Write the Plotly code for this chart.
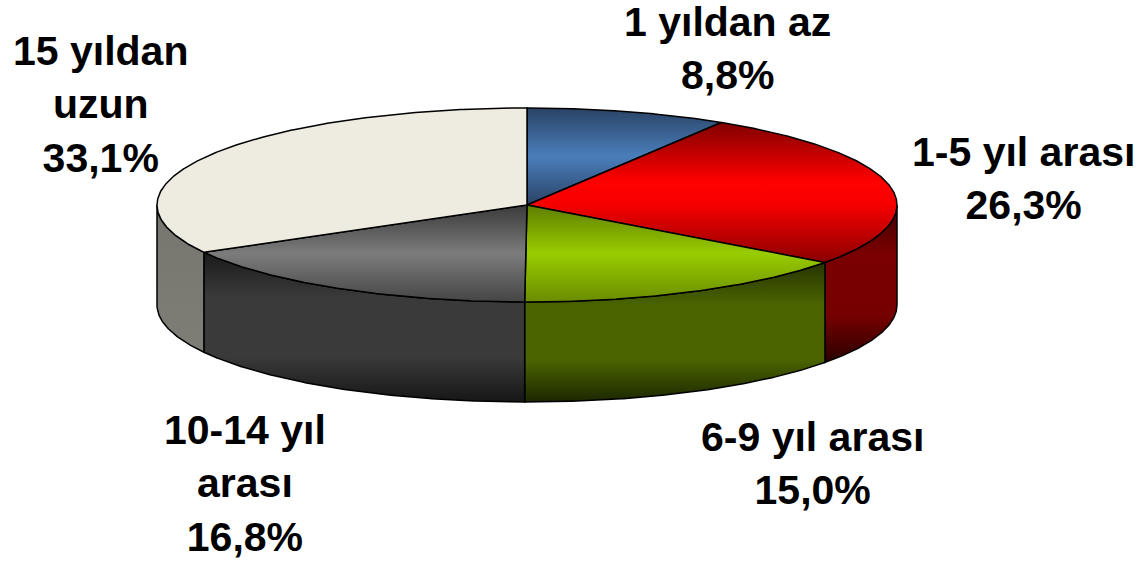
import numpy as np
import plotly.graph_objects as go

# ---- data ----
categories = ["1 yıldan az", "1-5 yıl arası", "6-9 yıl arası", "10-14 yıl<br>arası", "15 yıldan<br>uzun"]
values = [8.8, 26.3, 15.0, 16.8, 33.1]

# ---- styling ----
top_colors = [
    [[0, "#2a4365"], [0.5, "#4a7ebb"], [1, "#2a4365"]],
    [[0, "#8a0000"], [0.42, "#f80000"], [0.58, "#ff0000"], [1, "#800000"]],
    [[0, "#6a8c00"], [0.5, "#99cc00"], [1, "#5e7e00"]],
    [[0, "#454545"], [0.5, "#7c7c7c"], [1, "#3a3a3a"]],
    [[0, "#eeece1"], [1, "#eeece1"]],
]
side_colors = [
    [[0, "#1a2c45"], [0.5, "#3a5f8e"], [1, "#22395a"]],
    [[0, "#2a0000"], [0.3, "#760000"], [0.7, "#7a0000"], [1, "#3a0000"]],
    [[0, "#1c2600"], [0.3, "#4a6400"], [0.7, "#4a6400"], [1, "#263400"]],
    [[0, "#161616"], [0.3, "#3a3a3a"], [0.7, "#3a3a3a"], [1, "#1a1a1a"]],
    [[0, "#7e7d76"], [1, "#76766f"]],
]
label_pos = [(727, 48), (1023, 178), (812, 463), (245, 483), (100, 104)]

cx, cy, rx, ry, depth = 527, 205, 370, 97, 100
W, H = 1143, 562

fig = go.Figure()

total = float(sum(values))
cum = np.concatenate([[0], np.cumsum(values)]) / total
t_start = 90 - 360 * cum[:-1]
t_end = 90 - 360 * cum[1:]


def ex(t):
    return cx + rx * np.cos(np.radians(t))


def ey(t):
    return cy - ry * np.sin(np.radians(t))


# side walls (front half only: t in [-180, 0])
for i in range(len(values)):
    a, b = t_start[i], t_end[i]
    for shift in (0, 360, -360):
        lo = max(min(a, b) + shift, -180)
        hi = min(max(a, b) + shift, 0)
        if hi > lo:
            t = np.linspace(lo, hi, 200)
            xs = np.concatenate([ex(t), ex(t[::-1])])
            ys = np.concatenate([ey(t), ey(t[::-1]) + depth])
            xs = np.append(xs, xs[0])
            ys = np.append(ys, ys[0])
            fig.add_trace(go.Scatter(
                x=xs, y=ys, mode="lines", fill="toself",
                fillgradient=dict(type="vertical", colorscale=side_colors[i]),
                line=dict(color="black", width=1.5),
                hoverinfo="skip", showlegend=False,
            ))

# top faces
for i in range(len(values)):
    t = np.linspace(t_start[i], t_end[i], 300)
    xs = np.concatenate([[cx], ex(t), [cx]])
    ys = np.concatenate([[cy], ey(t), [cy]])
    fig.add_trace(go.Scatter(
        x=xs, y=ys, mode="lines", fill="toself",
        fillgradient=dict(type="vertical", colorscale=top_colors[i]),
        line=dict(color="black", width=1.5),
        hoverinfo="skip", showlegend=False,
    ))

# labels
for i, (cat, v) in enumerate(zip(categories, values)):
    pct = f"{v:.1f}".replace(".", ",") + "%"
    x, y = label_pos[i]
    fig.add_annotation(
        x=x, y=y, xref="x", yref="y", text=f"{cat}<br>{pct}",
        showarrow=False, align="center", xanchor="center", yanchor="middle",
        borderpad=0,
        font=dict(family="Liberation Sans, Arial, sans-serif", size=41, color="black", weight="bold"),
    )

fig.update_layout(
    width=W, height=H,
    margin=dict(l=0, r=0, t=0, b=0),
    paper_bgcolor="white", plot_bgcolor="white",
    xaxis=dict(range=[0, W], visible=False, fixedrange=True),
    yaxis=dict(range=[H, 0], visible=False, fixedrange=True),
    showlegend=False,
    hovermode=False,
)

fig.write_html(
    "out.html",
    config={"displayModeBar": False, "staticPlot": True},
    post_script="document.body.style.margin='0px';document.body.style.overflow='hidden';",
)
